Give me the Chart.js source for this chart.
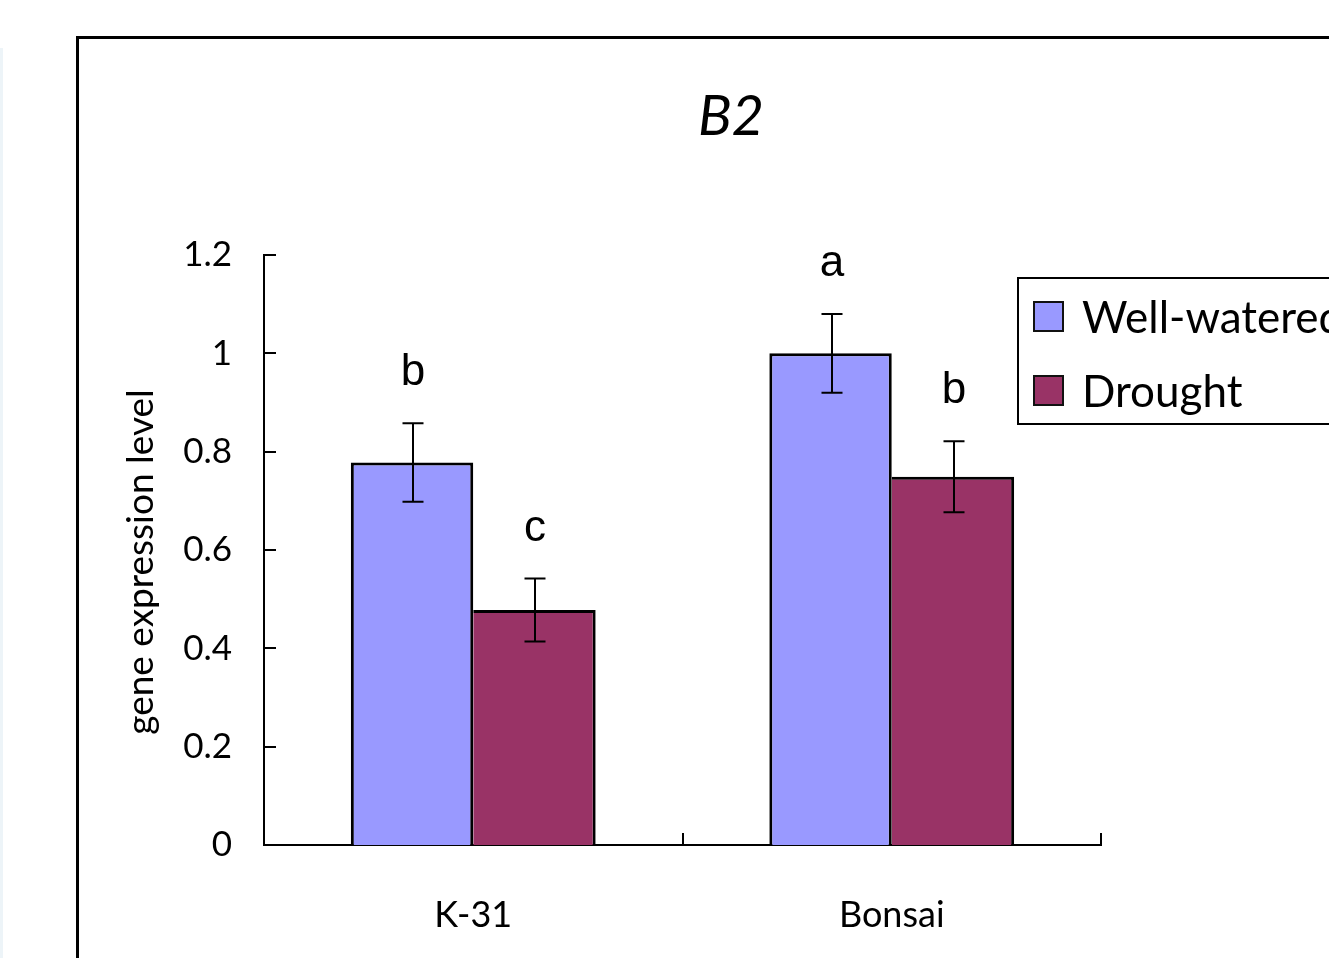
<!DOCTYPE html>
<html>
<head>
<meta charset="utf-8">
<script src="https://cdn.jsdelivr.net/npm/chart.js@4.4.1/dist/chart.umd.min.js"></script>
<style>
html, body { margin: 0; padding: 0; background: #fff; overflow: hidden; }
#wrap { position: relative; width: 1329px; height: 958px; }
#edge { position: absolute; left: 0; top: 48px; width: 3px; height: 910px; background: #edf4f8; }
canvas { display: block; }
</style>
</head>
<body>
<div id="wrap">
  <div id="edge"></div>
  <canvas id="chart-b2" width="1329" height="958"></canvas>
</div>
<script>
// data
const categories = ['K-31', 'Bonsai'];
const seriesNames = ['Well-watered', 'Drought'];
const wellWatered = [0.778, 1.0];
const drought = [0.478, 0.749];
const wellWateredErr = [0.08, 0.08];
const droughtErr = [0.064, 0.072];
const wellWateredLetters = ['b', 'a'];
const droughtLetters = ['c', 'b'];
const yTicks = [0, 0.2, 0.4, 0.6, 0.8, 1, 1.2];
const seriesColors = ['#9999FF', '#993366'];

const errs = [wellWateredErr, droughtErr];
const letters = [wellWateredLetters, droughtLetters];

const frame = {
    id: 'frame',
    beforeDraw(chart) {
        const ctx = chart.ctx;
        ctx.save();
        ctx.strokeStyle = '#000';
        ctx.lineWidth = 3;
        ctx.strokeRect(77.5, 37.5, 1500, 1100);
        ctx.restore();
    }
};

const errorBars = {
    id: 'errorBars',
    afterDatasetsDraw(chart) {
        const ctx = chart.ctx;
        const y = chart.scales.y;
        ctx.save();
        ctx.strokeStyle = '#000';
        ctx.lineWidth = 2;
        chart.data.datasets.forEach((ds, i) => {
            chart.getDatasetMeta(i).data.forEach((bar, j) => {
                const v = ds.data[j];
                const top = y.getPixelForValue(v + errs[i][j]);
                const bot = y.getPixelForValue(v - errs[i][j]);
                const x = Math.round(bar.x) + 1;
                ctx.beginPath();
                ctx.moveTo(x, top); ctx.lineTo(x, bot);
                ctx.moveTo(x - 10.5, top); ctx.lineTo(x + 10.5, top);
                ctx.moveTo(x - 10.5, bot); ctx.lineTo(x + 10.5, bot);
                ctx.stroke();
                // significance letters
                ctx.fillStyle = '#000';
                ctx.font = '44px "Liberation Sans", Arial, sans-serif';
                ctx.textAlign = 'center';
                ctx.textBaseline = 'alphabetic';
                ctx.fillText(letters[i][j], x, top - 38);
            });
        });
        ctx.restore();
    }
};

const extras = {
    id: 'extras',
    afterDraw(chart) {
        const ctx = chart.ctx;
        const y = chart.scales.y;
        const area = chart.chartArea;
        ctx.save();
        ctx.strokeStyle = '#000';
        ctx.lineWidth = 2;
        // inward tick marks
        ctx.beginPath();
        y.ticks.forEach(t => {
            const py = Math.round(y.getPixelForValue(t.value));
            ctx.moveTo(area.left, py); ctx.lineTo(area.left + 12, py);
        });
        const step = (area.right - area.left) / categories.length;
        for (let k = 1; k <= categories.length; k++) {
            const px = Math.round(area.left + k * step);
            ctx.moveTo(px, area.bottom); ctx.lineTo(px, area.bottom - 12);
        }
        ctx.stroke();

        // y axis label
        ctx.fillStyle = '#000';
        ctx.save();
        ctx.translate(141, 562);
        ctx.rotate(-Math.PI / 2);
        ctx.font = '37px Lato, sans-serif';
        ctx.textAlign = 'center';
        ctx.textBaseline = 'middle';
        ctx.fillText('gene expression level', 0, 0);
        ctx.restore();

        // title
        ctx.font = 'italic 56px Lato, sans-serif';
        ctx.textAlign = 'center';
        ctx.textBaseline = 'middle';
        ctx.fillText('B2', 731, 117);

        // legend
        ctx.lineWidth = 2;
        ctx.strokeRect(1018, 278, 400, 146);
        ctx.font = '44px Lato, sans-serif';
        ctx.textAlign = 'left';
        chart.data.datasets.forEach((ds, i) => {
            const top = 302 + i * 74;
            ctx.fillStyle = ds.backgroundColor;
            ctx.fillRect(1034, top, 29, 29);
            ctx.strokeStyle = '#111';
            ctx.strokeRect(1034, top, 29, 29);
            ctx.fillStyle = '#000';
            ctx.fillText(ds.label, 1082, top + 17);
        });
        ctx.restore();
    }
};

new Chart(document.getElementById('chart-b2'), {
    type: 'bar',
    data: {
        labels: categories,
        datasets: [{
            label: seriesNames[0],
            data: wellWatered,
            backgroundColor: seriesColors[0],
            borderColor: '#000',
            borderWidth: { top: 3, left: 3, right: 3, bottom: 0 },
            borderSkipped: false,
            categoryPercentage: 0.585,
            barPercentage: 1
        }, {
            label: seriesNames[1],
            data: drought,
            backgroundColor: seriesColors[1],
            borderColor: '#000',
            borderWidth: { top: 3, left: 0, right: 3, bottom: 0 },
            borderSkipped: false,
            categoryPercentage: 0.585,
            barPercentage: 1
        }]
    },
    options: {
        responsive: false,
        animation: false,
        layout: { padding: { top: 255, right: 228, left: 0, bottom: 0 } },
        plugins: {
            legend: { display: false },
            title: { display: false },
            tooltip: { enabled: false }
        },
        scales: {
            x: {
                grid: { display: false, drawTicks: false },
                border: { display: true, color: '#000', width: 2 },
                ticks: {
                    color: '#000',
                    padding: 49,
                    font: { family: 'Lato', size: 36 }
                },
                afterFit(scale) { scale.height = 113; }
            },
            y: {
                min: 0,
                max: 1.2,
                grid: { display: false, drawTicks: false },
                border: { display: true, color: '#000', width: 2 },
                afterBuildTicks(scale) { scale.ticks = yTicks.map(v => ({ value: v })); },
                ticks: {
                    color: '#000',
                    padding: 32,
                    font: { family: 'Lato', size: 35 },
                    callback: v => String(Math.round(v * 10) / 10)
                },
                afterFit(scale) { scale.width = 264; }
            }
        }
    },
    plugins: [frame, errorBars, extras]
});
</script>
</body>
</html>
